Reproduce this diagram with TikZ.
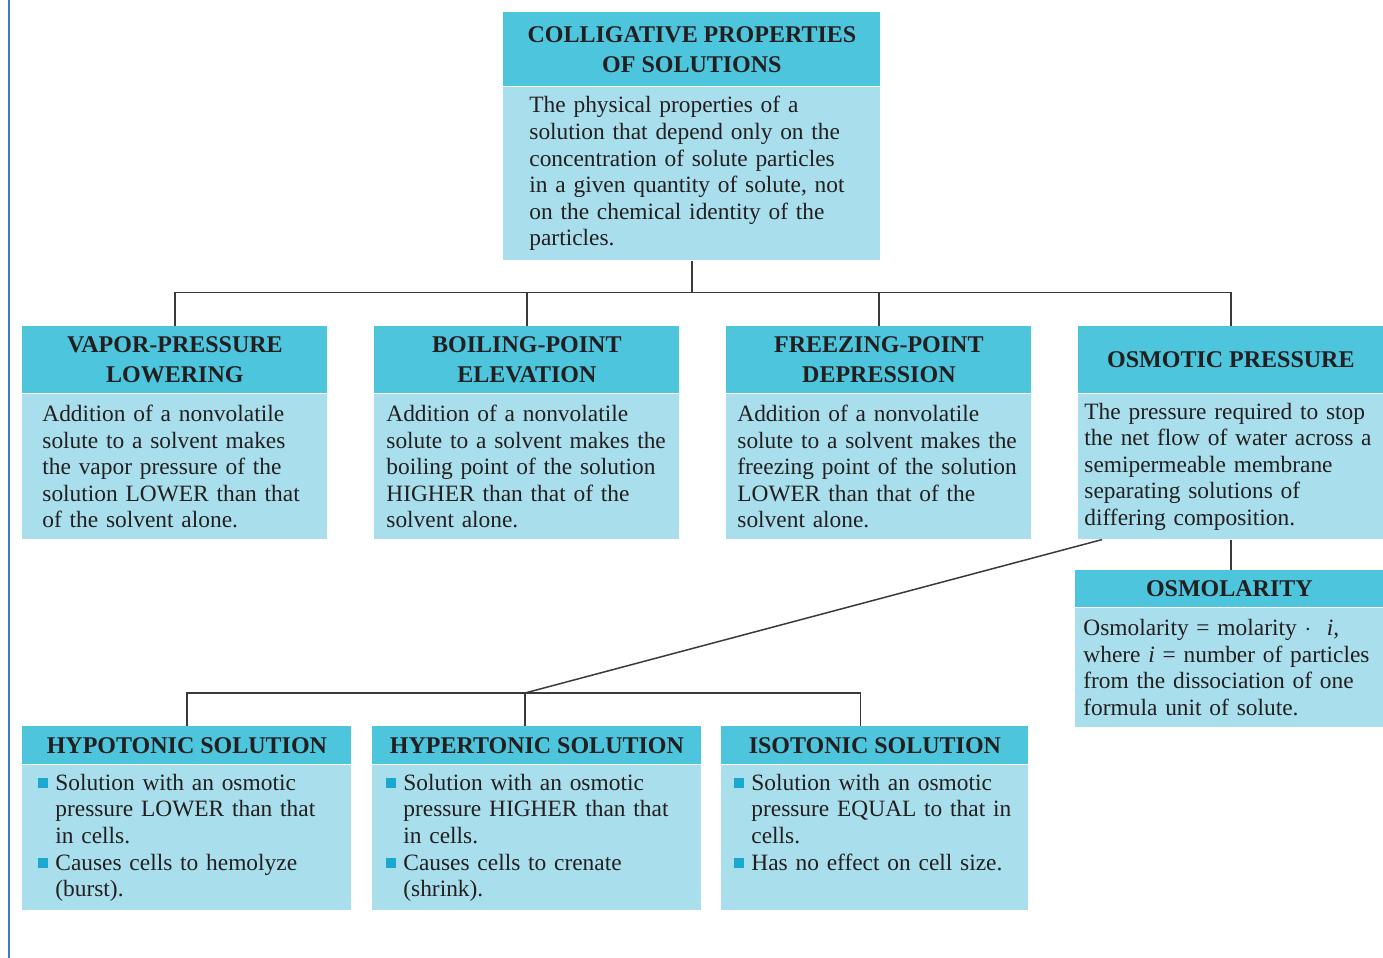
\documentclass[tikz,border=0pt]{standalone}
\usepackage{fontspec}
\setmainfont{Liberation Serif}
\usetikzlibrary{positioning}
\definecolor{kopfblau}{HTML}{4DC5DC}
\definecolor{rumpfblau}{HTML}{A9DEEC}
\definecolor{punktblau}{HTML}{1AA9CC}
\definecolor{grau}{HTML}{3A3A3A}
\definecolor{schrift}{HTML}{231F20}
\definecolor{randblau}{HTML}{3B7DC4}
\tikzset{
  kopf/.style={fill=kopfblau,text=schrift,inner sep=0pt,align=center,anchor=north west,
    font=\fontsize{12}{15}\selectfont\bfseries},
  rumpf/.style={fill=rumpfblau,text=schrift,inner ysep=0pt,align=left,
    font=\fontsize{11.7}{13.3}\selectfont},
  liste/.style={rumpf,text height=12.5pt,text depth=60pt},
  linie/.style={grau,line width=0.75pt},
  rand/.style={randblau,line width=1pt},
}
\newcommand{\punkt}{\hangindent=8.5pt\hangafter=1\noindent
  \makebox[8.5pt][l]{\textcolor{punktblau}{\rule[1pt]{5pt}{5pt}}}}

\begin{document}
\begin{tikzpicture}[x=0.5pt,y=-0.5pt]
  \useasboundingbox (0,0) rectangle (1383,958);
  \draw[rand] (9,0) -- (9,958);
  % top
  \node[kopf,minimum width=188.5pt,minimum height=37pt] (titel) at (503,12) {COLLIGATIVE PROPERTIES\\OF SOLUTIONS};
  \node[rumpf,below=0pt of titel,minimum height=86.5pt,text width=162.5pt,inner xsep=13pt] (titeltext)
    {The physical properties of a\\solution that depend only on the\\concentration of solute particles\\in a given quantity of solute, not\\on the chemical identity of the\\particles.};
  % the four properties
  \node[kopf,minimum width=152.5pt,minimum height=33.5pt] (vp) at (22,326) {VAPOR-PRESSURE\\LOWERING};
  \node[rumpf,below=0pt of vp,minimum height=72.5pt,text width=132.5pt,inner xsep=10pt] (vptext)
    {Addition of a nonvolatile\\solute to a solvent makes\\the vapor pressure of the\\solution LOWER than that\\of the solvent alone.};
  \node[kopf,minimum width=152.5pt,minimum height=33.5pt] (bp) at (374,326) {BOILING-POINT\\ELEVATION};
  \node[rumpf,below=0pt of bp,minimum height=72.5pt,text width=140.5pt,inner xsep=6pt] (bptext)
    {Addition of a nonvolatile\\solute to a solvent makes the\\boiling point of the solution\\HIGHER than that of the\\solvent alone.};
  \node[kopf,minimum width=152.5pt,minimum height=33.5pt] (fp) at (726,326) {FREEZING-POINT\\DEPRESSION};
  \node[rumpf,below=0pt of fp,minimum height=72.5pt,text width=141.5pt,inner xsep=5.5pt] (fptext)
    {Addition of a nonvolatile\\solute to a solvent makes the\\freezing point of the solution\\LOWER than that of the\\solvent alone.};
  \node[kopf,minimum width=152.5pt,minimum height=33.5pt] (op) at (1078,326) {OSMOTIC PRESSURE};
  \node[rumpf,below=0pt of op,minimum height=72.5pt,text width=146.5pt,inner xsep=3pt] (optext)
    {The pressure required to stop\\the net flow of water across a\\semipermeable membrane\\separating solutions of\\differing composition.};
  \node[kopf,minimum width=154pt,minimum height=18.5pt] (osm) at (1075,570) {OSMOLARITY};
  \node[rumpf,below=0pt of osm,minimum height=59.5pt,text width=146pt,inner xsep=4pt] (osmtext)
    {Osmolarity = molarity $\cdot$~~\textit{i},\\where \textit{i} = number of particles\\from the dissociation of one\\formula unit of solute.};
  % solutions
  \node[kopf,minimum width=164.5pt,minimum height=19pt] (hypo) at (22,726) {HYPOTONIC SOLUTION};
  \node[liste,below=0pt of hypo,text width=148.5pt,inner xsep=8pt] (hypotext)
    {\punkt Solution with an osmotic\newline pressure LOWER than that\newline in cells.\par
     \punkt Causes cells to hemolyze\newline (burst).\par};
  \node[kopf,minimum width=164.5pt,minimum height=19pt] (hyper) at (372,726) {HYPERTONIC SOLUTION};
  \node[liste,below=0pt of hyper,text width=150.5pt,inner xsep=7pt] (hypertext)
    {\punkt Solution with an osmotic\newline pressure HIGHER than that\newline in cells.\par
     \punkt Causes cells to crenate\newline (shrink).\par};
  \node[kopf,minimum width=153.5pt,minimum height=19pt] (iso) at (721,726) {ISOTONIC SOLUTION};
  \node[liste,below=0pt of iso,text width=140.5pt,inner xsep=6.5pt] (isotext)
    {\punkt Solution with an osmotic\newline pressure EQUAL to that in\newline cells.\par
     \punkt Has no effect on cell size.\par};
  % lines
  \coordinate (bus) at ([yshift=-16pt]titeltext.south);
  \draw[linie] (titeltext.south) -- (bus);
  \draw[linie] (vp.north) |- (bus) -| (op.north);
  \draw[linie] (bp.north) -- (bp.north |- bus);
  \draw[linie] (fp.north) -- (fp.north |- bus);
  \draw[linie] (optext.south) -- (optext.south |- osm.north);
  \coordinate (knoten) at (525,693);
  \draw[linie] ([xshift=12pt]optext.south west) -- (knoten);
  \draw[linie] (hypo.north) |- (knoten) -| ([xshift=-7.25pt]iso.north);
  \draw[linie] (knoten) -- (knoten |- hyper.north);
\end{tikzpicture}
\end{document}
